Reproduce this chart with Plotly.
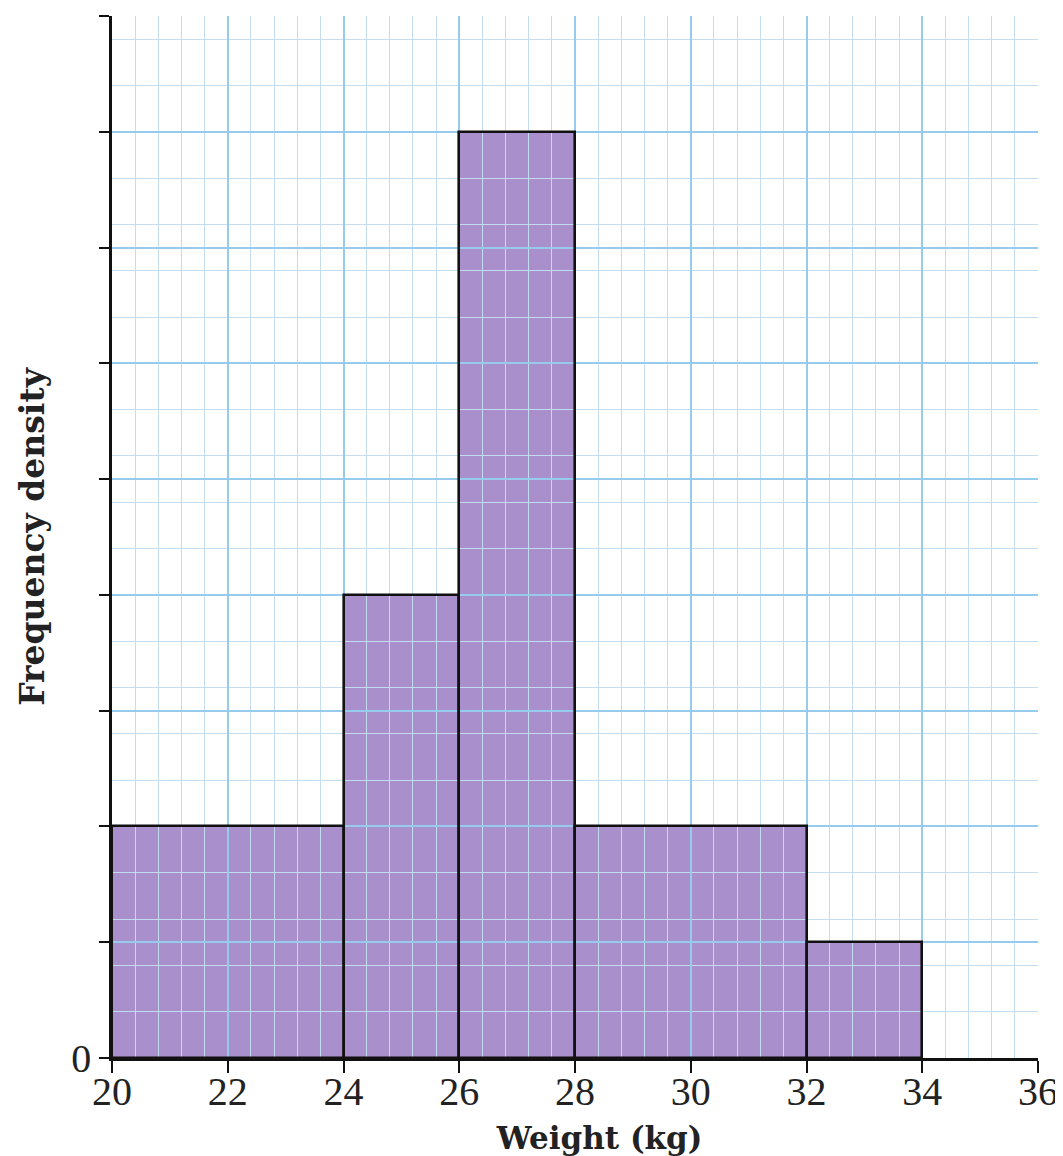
import plotly.graph_objects as go

# Data
bin_edges = [20, 24, 26, 28, 32, 34]
freq_density = [2, 4, 8, 2, 1]
x_ticks = [20, 22, 24, 26, 28, 30, 32, 34, 36]
y_ticks = [0, 1, 2, 3, 4, 5, 6, 7, 8, 9]
y_tick_labels = ["0", "", "", "", "", "", "", "", "", ""]

centers = [(a + b) / 2 for a, b in zip(bin_edges[:-1], bin_edges[1:])]
widths = [b - a for a, b in zip(bin_edges[:-1], bin_edges[1:])]

TICK_FONT = "Liberation Serif"
TITLE_FONT = "DejaVu Serif"
BAR_COLOR = "#a98fcb"
MAJOR_GRID = "#96cbee"
MINOR_GRID = "#c4dcef"

fig = go.Figure()

# Layer 1: bar fill
fig.add_trace(go.Bar(x=centers, y=freq_density, width=widths,
                     marker=dict(color=BAR_COLOR, line=dict(width=0)),
                     xaxis="x", yaxis="y", hoverinfo="skip", showlegend=False))

# Layer 2: outlines (drawn above the grid of the second subplot)
fig.add_trace(go.Bar(x=centers, y=freq_density, width=widths,
                     marker=dict(color="rgba(0,0,0,0)", line=dict(width=2.6, color="#111111")),
                     xaxis="x2", yaxis="y2", hoverinfo="skip", showlegend=False))

xr = [x_ticks[0], x_ticks[-1]]
yr = [y_ticks[0], y_ticks[-1]]

fig.update_layout(
    width=1055, height=1148,
    margin=dict(l=104, r=25, t=8, b=98, autoexpand=False),
    paper_bgcolor="white", plot_bgcolor="rgba(0,0,0,0)",
    font=dict(family=TICK_FONT, color="#222222"),
    bargap=0,
    xaxis=dict(domain=[0, 1], range=xr, visible=False, fixedrange=True, automargin=False),
    yaxis=dict(domain=[0, 1], range=yr, visible=False, fixedrange=True, automargin=False),
    xaxis2=dict(domain=[0, 1], anchor="y2", range=xr, automargin=False,
                tickvals=x_ticks, ticks="outside", ticklen=12, tickwidth=2, tickcolor="#111111",
                ticklabelstandoff=-16,
                showline=True, linecolor="#111111", linewidth=2.5,
                showgrid=True, gridcolor=MAJOR_GRID, gridwidth=1.6,
                minor=dict(dtick=0.4, tick0=20, showgrid=True, gridcolor=MINOR_GRID, gridwidth=1),
                zeroline=False,
                tickfont=dict(family=TICK_FONT, size=40, color="#222222"),
                title=dict(text="&nbsp;&nbsp;&nbsp;&nbsp;&nbsp;<b>Weight (kg)</b>",
                           font=dict(family=TITLE_FONT, size=31, color="#222222"), standoff=18)),
    yaxis2=dict(domain=[0, 1], anchor="x2", range=yr, automargin=False,
                tickvals=y_ticks, ticktext=y_tick_labels,
                ticks="outside", ticklen=10, tickwidth=2, tickcolor="#111111",
                showline=True, linecolor="#111111", linewidth=2.5,
                showgrid=True, gridcolor=MAJOR_GRID, gridwidth=1.6,
                minor=dict(dtick=0.4, tick0=0, showgrid=True, gridcolor=MINOR_GRID, gridwidth=1),
                zeroline=False,
                tickfont=dict(family=TICK_FONT, size=40, color="#222222"),
                title=dict(text="<b>Frequency density</b>", font=dict(family=TITLE_FONT, size=33, color="#222222"), standoff=17)),
)

fig.write_html("out.html")
